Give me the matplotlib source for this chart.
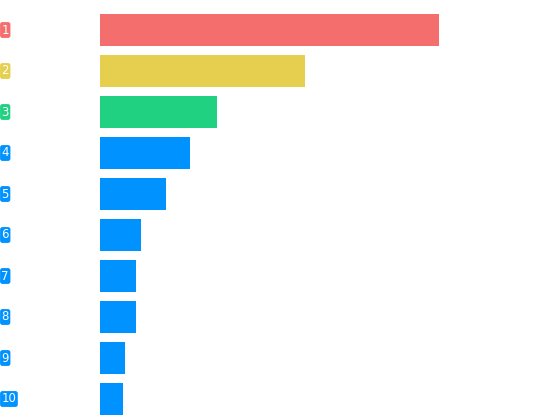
import matplotlib.pyplot as plt
import matplotlib.transforms as mtransforms

ranks = ['1', '2', '3', '4', '5', '6', '7', '8', '9', '10']
values = [339, 205, 117, 90, 66, 41, 36, 36, 25, 23]

top_colors = ['#F46E6E', '#E6CF4E', '#20D182']
other_color = '#0092FF'
colors = top_colors + [other_color] * (len(ranks) - len(top_colors))

fig = plt.figure(figsize=(5.5, 4.2), dpi=100)
# axes placed in pixels: x from 100 to 530, y from 9.5 to 419.5 (from top)
ax = fig.add_axes([100 / 550, 0.5 / 420, 430 / 550, 410 / 420])

pos = list(range(len(ranks)))
ax.barh(pos, values, height=32 / 41, color=colors)
ax.set_ylim(len(ranks) - 0.5, -0.5)
ax.set_xlim(0, 430)
ax.axis('off')

# rank badges at the far left of the figure
trans = mtransforms.blended_transform_factory(fig.transFigure, ax.transData)
for p, r, c in zip(pos, ranks, colors):
    ax.text(1.5 / 550, p, r, transform=trans, ha='left', va='center',
            color='white', fontsize=8.5, clip_on=False,
            bbox=dict(boxstyle='round,pad=0.12,rounding_size=0.2',
                      fc=c, ec='none'))

fig.savefig('out.png', dpi=100)
